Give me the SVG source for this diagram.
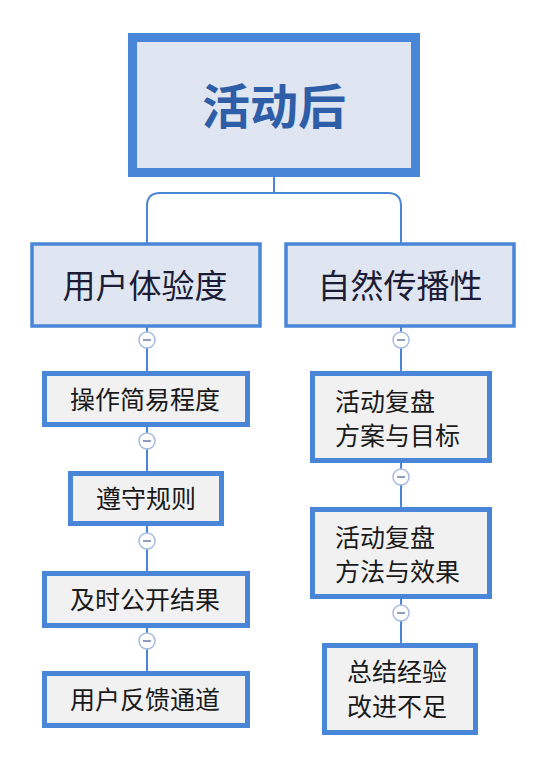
<svg xmlns="http://www.w3.org/2000/svg" width="548" height="768" viewBox="0 0 548 768">
<style>
.root{fill:#dfe6f2;stroke:#4a86d8;stroke-width:9}
.l1{fill:#dfe6f2;stroke:#4a86d8;stroke-width:3.5}
.l2{fill:#f1f1f2;stroke:#4a86d8;stroke-width:5}
.t{font-family:"Noto Sans CJK SC","Noto Sans",sans-serif}
.rt{font-size:48px;font-weight:bold;fill:#2f5ea8;text-anchor:middle}
.t1{font-size:33px;fill:#1c1c36;text-anchor:middle}
.t2{font-size:25px;fill:#1a1a1a}
.c{fill:none;stroke:#4a86d8;stroke-width:2}
.tg circle{fill:#fff;stroke:#a5bbe0;stroke-width:1.5}
.tg line{stroke:#6a7fa8;stroke-width:1.5}
</style>
<rect width="548" height="768" fill="#fff"/>
<g id="connectors">
<path class="c" d="M274,177 V193 M147,243 V206 Q147,193 160,193 H388 Q401,193 401,206 V243"/>
<path class="c" d="M147,327 V371 M147,426 V471 M147,525 V571 M147,627 V671"/>
<path class="c" d="M401,327 V371 M401,462 V507 M401,598 V643"/>
</g>
<g id="toggles" class="tg">
<g><circle cx="147" cy="340" r="8"/><line x1="143" y1="340" x2="151" y2="340"/></g>
<g><circle cx="147" cy="441" r="8"/><line x1="143" y1="441" x2="151" y2="441"/></g>
<g><circle cx="147" cy="541" r="8"/><line x1="143" y1="541" x2="151" y2="541"/></g>
<g><circle cx="147" cy="641" r="8"/><line x1="143" y1="641" x2="151" y2="641"/></g>
<g><circle cx="401" cy="340" r="8"/><line x1="397" y1="340" x2="405" y2="340"/></g>
<g><circle cx="401" cy="477" r="8"/><line x1="397" y1="477" x2="405" y2="477"/></g>
<g><circle cx="401" cy="613" r="8"/><line x1="397" y1="613" x2="405" y2="613"/></g>
</g>
<g id="root"><rect class="root" x="132.5" y="37.5" width="283" height="135"/><text class="t rt" x="274" y="124">活动后</text></g>
<g id="n-ux"><rect class="l1" x="32" y="244" width="228" height="82"/><text class="t t1" x="145" y="298">用户体验度</text></g>
<g id="n-spread"><rect class="l1" x="286" y="244" width="228" height="82"/><text class="t t1" x="400" y="298">自然传播性</text></g>
<g id="n-a1"><rect class="l2" x="44.5" y="373.5" width="203" height="51"/><text class="t t2" x="145" y="409" text-anchor="middle">操作简易程度</text></g>
<g id="n-a2"><rect class="l2" x="70.5" y="473.5" width="151" height="50"/><text class="t t2" x="146" y="508" text-anchor="middle">遵守规则</text></g>
<g id="n-a3"><rect class="l2" x="44.5" y="573.5" width="203" height="52"/><text class="t t2" x="145" y="609" text-anchor="middle">及时公开结果</text></g>
<g id="n-a4"><rect class="l2" x="44.5" y="673.5" width="203" height="52"/><text class="t t2" x="145" y="709" text-anchor="middle">用户反馈通道</text></g>
<g id="n-b1"><rect class="l2" x="312.5" y="373.5" width="177" height="87"/><text class="t t2" x="335" y="411">活动复盘</text><text class="t t2" x="335" y="445">方案与目标</text></g>
<g id="n-b2"><rect class="l2" x="312.5" y="509.5" width="177" height="87"/><text class="t t2" x="335" y="547">活动复盘</text><text class="t t2" x="335" y="581">方法与效果</text></g>
<g id="n-b3"><rect class="l2" x="324.5" y="645.5" width="151" height="87"/><text class="t t2" x="347" y="681">总结经验</text><text class="t t2" x="347" y="716">改进不足</text></g>
</svg>
